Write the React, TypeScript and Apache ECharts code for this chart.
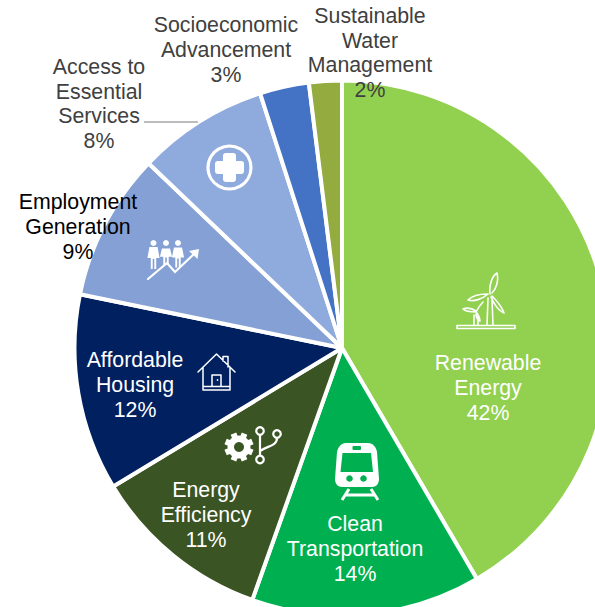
import React, { useEffect, useRef } from "react";
import * as echarts from "echarts";

const categories = [
  "Renewable\nEnergy",
  "Clean\nTransportation",
  "Energy\nEfficiency",
  "Affordable\nHousing",
  "Employment\nGeneration",
  "Access to\nEssential\nServices",
  "Socioeconomic\nAdvancement",
  "Sustainable\nWater\nManagement",
];
const shares = [42, 14, 11, 12, 9, 8, 3, 2];
const sliceColors = ["#92D050", "#00B050", "#3A5424", "#002060", "#84A0D4", "#8FAADC", "#4472C4", "#94AB3F"];
const labelColors = ["#FFFFFF", "#FFFFFF", "#FFFFFF", "#FFFFFF", "#000000", "#404040", "#404040", "#404040"];
const labelAnchors = [
  [488, 388],
  [355, 549],
  [206, 515],
  [135, 385],
  [78, 227],
  [99, 104],
  [226, 50],
  [370, 53],
];

const WHITE = "#FFFFFF";

const turbinePath =
  "M457 325.5H515V328.5H457Z" +
  "M488 298L487 325.5M492 298L493 325.5" +
  "M490 294C489 285 492 276 497 273C499 281 496 289 492 293" +
  "M488 294C482 299 474 302 468 300C472 296 480 294 487 294" +
  "M492 296C497 301 502 307 504 313C499 311 494 304 491 297" +
  "M474 315L474 325.5M478 315L478 325.5" +
  "M476 312C471 312 465 311 463 309C468 307 473 309 476 311" +
  "M476 312C478 308 481 304 483 302M477 313C479 316 480 319 480 321C478 320 476 317 476 314";

const housePath =
  "M198 372L216.5 354L235 372" +
  "M223 361V356.5H228V367" +
  "M203 367V390H230V367" +
  "M203 386.5H230" +
  "M212 386V375H221V386";

const branchPath =
  "M260 435V455" +
  "M277 438C277 446 267 446 260 451";

const trainBodyPath =
  "M346 443H368C373 443 376 447 377 452L379 479C379 484 376 487 372 487H342C338 487 335 484 335 479L337 452C338 447 341 443 346 443Z";

const trainWindowsPath = "M342.5 453H371L373 472H340.5Z";

const trainRailsPath = "M349 489L342 500M371 489L378 500M345 495H375";

const personPath =
  "M-3 -6H3L4.5 5H2L2 16H0.6V6H-0.6V16H-2V5H-4.5Z";

const arrowPath = "M148 279L167 263L175 272L194 254";

echarts.graphic.registerShape("turbineIcon", echarts.graphic.extendPath(turbinePath, {}));
echarts.graphic.registerShape("houseIcon", echarts.graphic.extendPath(housePath, {}));
echarts.graphic.registerShape("branchIcon", echarts.graphic.extendPath(branchPath, {}));
echarts.graphic.registerShape("trainBody", echarts.graphic.extendPath(trainBodyPath, {}));
echarts.graphic.registerShape("trainWindows", echarts.graphic.extendPath(trainWindowsPath, {}));
echarts.graphic.registerShape("trainRails", echarts.graphic.extendPath(trainRailsPath, {}));
echarts.graphic.registerShape("personIcon", echarts.graphic.extendPath(personPath, {}));
echarts.graphic.registerShape("growthArrow", echarts.graphic.extendPath(arrowPath, {}));

const outline = (width: number) => ({ fill: "none", stroke: WHITE, lineWidth: width, lineJoin: "round", lineCap: "round" });

// Gear teeth are bars through the hub, one for each 45 degree step.
const gearTeeth = [22.5, 67.5, 112.5, 157.5].map((deg) => {
  const a = (deg * Math.PI) / 180;
  const cx = 239;
  const cy = 447;
  const r = 14.5;
  return {
    type: "line",
    z: 10,
    shape: {
      x1: cx - r * Math.cos(a),
      y1: cy - r * Math.sin(a),
      x2: cx + r * Math.cos(a),
      y2: cy + r * Math.sin(a),
    },
    style: { stroke: WHITE, lineWidth: 6 },
  };
});

const icons: any[] = [
  // Leader from the "Services" label to its slice
  { type: "line", z: 10, shape: { x1: 144, y1: 122, x2: 198, y2: 122 }, style: { stroke: "#A6A6A6", lineWidth: 1.3 } },

  { type: "turbineIcon", z: 10, style: outline(1.6) },
  { type: "houseIcon", z: 10, style: outline(1.5) },
  { type: "circle", z: 10, shape: { cx: 217.5, cy: 380, r: 0.8 }, style: { fill: WHITE } },

  ...gearTeeth,
  { type: "circle", z: 10, shape: { cx: 239, cy: 447, r: 11.5 }, style: { fill: WHITE } },
  { type: "circle", z: 11, shape: { cx: 239, cy: 447, r: 5 }, style: { fill: "#3A5424" } },
  { type: "branchIcon", z: 10, style: outline(2.2) },
  { type: "circle", z: 10, shape: { cx: 260, cy: 431, r: 3.8 }, style: { fill: "#3A5424", stroke: WHITE, lineWidth: 2.2 } },
  { type: "circle", z: 10, shape: { cx: 277, cy: 434, r: 3.8 }, style: { fill: "#3A5424", stroke: WHITE, lineWidth: 2.2 } },
  { type: "circle", z: 10, shape: { cx: 260, cy: 459.5, r: 3.8 }, style: { fill: "#3A5424", stroke: WHITE, lineWidth: 2.2 } },

  { type: "trainBody", z: 10, style: { fill: WHITE } },
  { type: "trainWindows", z: 11, style: { fill: "#00B050" } },
  { type: "rect", z: 11, shape: { x: 352.5, y: 446, width: 8.5, height: 4, r: 1 }, style: { fill: "#00B050" } },
  { type: "circle", z: 11, shape: { cx: 349.5, cy: 478.5, r: 3.3 }, style: { fill: "#00B050" } },
  { type: "circle", z: 11, shape: { cx: 363.5, cy: 478.5, r: 3.3 }, style: { fill: "#00B050" } },
  { type: "trainRails", z: 10, style: { fill: "none", stroke: WHITE, lineWidth: 3 } },

  { type: "circle", z: 10, shape: { cx: 229.5, cy: 167.5, r: 21.5 }, style: { fill: "none", stroke: WHITE, lineWidth: 3.2 } },
  { type: "rect", z: 10, shape: { x: 215, y: 161, width: 29, height: 13, r: 3 }, style: { fill: WHITE } },
  { type: "rect", z: 10, shape: { x: 223, y: 153, width: 13, height: 29, r: 3 }, style: { fill: WHITE } },

  { type: "circle", z: 10, shape: { cx: 153.5, cy: 243, r: 3 }, style: { fill: WHITE } },
  { type: "circle", z: 10, shape: { cx: 166, cy: 243, r: 3 }, style: { fill: WHITE } },
  { type: "circle", z: 10, shape: { cx: 178, cy: 243, r: 3 }, style: { fill: WHITE } },
  { type: "personIcon", z: 10, x: 153.5, y: 253, scaleX: 1.35, style: { fill: WHITE } },
  { type: "personIcon", z: 10, x: 166, y: 253, scaleX: 1.35, scaleY: 0.75, style: { fill: WHITE } },
  { type: "personIcon", z: 10, x: 178, y: 253, scaleX: 1.35, scaleY: 0.9, style: { fill: WHITE } },
  { type: "growthArrow", z: 10, style: { ...outline(2.2), lineJoin: "miter" } },
  { type: "polygon", z: 10, shape: { points: [[199, 249], [197.5, 259], [189, 251]] }, style: { fill: WHITE } },
];

export default function App() {
  const ref = useRef<HTMLDivElement>(null);

  useEffect(() => {
    const chart = echarts.init(ref.current!, undefined, { renderer: "svg" });
    chart.setOption({
      animation: false,
      backgroundColor: "#FFFFFF",
      graphic: icons,
      series: [
        {
          type: "pie",
          center: [342, 348],
          radius: [0, 267.5],
          startAngle: 90,
          clockwise: true,
          avoidLabelOverlap: false,
          itemStyle: { borderColor: "#FFFFFF", borderWidth: 4 },
          labelLine: { show: false },
          data: categories.map((name, i) => ({
            name,
            value: shares[i],
            itemStyle: { color: sliceColors[i] },
            label: { color: labelColors[i] },
          })),
          label: {
            show: true,
            position: "inside",
            fontFamily: "Liberation Sans",
            fontSize: 21.3,
            lineHeight: 24.6,
            align: "center",
            verticalAlign: "middle",
            formatter: (p: any) => `${p.name}\n${p.value}%`,
          },
          labelLayout: (p: any) => ({
            x: labelAnchors[p.dataIndex][0],
            y: labelAnchors[p.dataIndex][1],
            align: "center",
            verticalAlign: "middle",
          }),
        },
      ],
    });
    return () => chart.dispose();
  }, []);

  return <div ref={ref} style={{ position: "absolute", left: 0, top: 0, width: 595, height: 607 }} />;
}
